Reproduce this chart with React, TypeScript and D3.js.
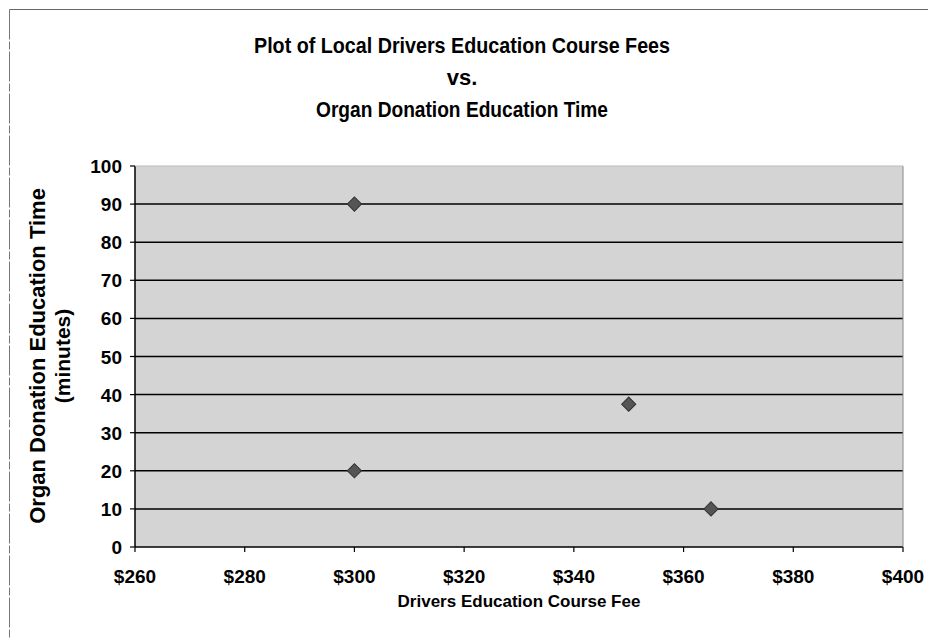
import React from "react";
import * as d3 from "d3";

const fees = [300, 300, 350, 365];
const minutes = [90, 20, 37.5, 10];
const xTicks = [260, 280, 300, 320, 340, 360, 380, 400];
const yTicks = [0, 10, 20, 30, 40, 50, 60, 70, 80, 90, 100];
const titleLines = [
  "Plot of Local Drivers Education Course Fees",
  "vs.",
  "Organ Donation Education Time",
];
const titleLengths = [416, 0, 292];
const yLabelLines = ["Organ Donation Education Time", "(minutes)"];
const xLabel = "Drivers Education Course Fee";

const W = 928;
const H = 638;
const left = 135;
const right = 903;
const top = 166;
const bottom = 547;
const FONT = "'Liberation Sans', Arial, sans-serif";

export default function App() {
  const x = d3.scaleLinear().domain([260, 400]).range([left, right]);
  const y = d3.scaleLinear().domain([0, 100]).range([bottom, top]);
  const diamond = d3.symbol().type(d3.symbolSquare).size(100)();

  return (
    <svg
      width={W}
      height={H}
      style={{ position: "absolute", left: 0, top: 0, background: "#fff" }}
      fontFamily={FONT}
    >
      <line x1={9.5} x2={W} y1={9.5} y2={9.5} stroke="#666" strokeWidth={1} />
      <line x1={9.5} x2={9.5} y1={9.5} y2={H} stroke="#777" strokeWidth={1} strokeDasharray="30 2 8 2" />
      {titleLines.map((t, i) => (
        <text
          key={i}
          x={462}
          y={53 + i * 32}
          textAnchor="middle"
          fontSize={22}
          fontWeight="bold"
          fill="#000"
          {...(titleLengths[i] ? { textLength: titleLengths[i], lengthAdjust: "spacingAndGlyphs" } : {})}
        >
          {t}
        </text>
      ))}
      <rect x={left} y={top} width={right - left} height={bottom - top} fill="#d4d4d4" />
      {yTicks.filter((v) => v > 0 && v < 100).map((v) => (
        <line key={v} x1={left} x2={right} y1={y(v)} y2={y(v)} stroke="#000" strokeWidth={1.5} />
      ))}
      <line x1={left} x2={left} y1={top} y2={bottom} stroke="#000" strokeWidth={1.5} />
      <line x1={left} x2={right} y1={bottom} y2={bottom} stroke="#000" strokeWidth={1.5} />
      <line x1={right} x2={right} y1={top} y2={bottom} stroke="#888" strokeWidth={1} />
      <line x1={left} x2={right} y1={top} y2={top} stroke="#bbb" strokeWidth={1} />
      {yTicks.map((v) => (
        <g key={v}>
          <line x1={left - 5} x2={left} y1={y(v)} y2={y(v)} stroke="#000" strokeWidth={1.2} />
          <text x={122} y={y(v) + 7} textAnchor="end" fontSize={19} fontWeight="bold" fill="#000">
            {v}
          </text>
        </g>
      ))}
      {xTicks.map((v) => (
        <g key={v}>
          <line x1={x(v)} x2={x(v)} y1={bottom} y2={bottom + 5} stroke="#000" strokeWidth={1.2} />
          <text x={x(v)} y={583} textAnchor="middle" fontSize={19} fontWeight="bold" fill="#000">
            {"$" + v}
          </text>
        </g>
      ))}
      {fees.map((f, i) => (
        <path
          key={i}
          d={diamond as string}
          transform={`translate(${x(f)},${y(minutes[i])}) rotate(45)`}
          fill="#555"
          stroke="#333"
          strokeWidth={1}
        />
      ))}
      <text x={519} y={607} textAnchor="middle" fontSize={17} fontWeight="bold" fill="#000">
        {xLabel}
      </text>
      {yLabelLines.map((t, i) => (
        <text
          key={i}
          transform={`translate(${45 + i * 25},${356}) rotate(-90)`}
          textAnchor="middle"
          fontSize={i === 0 ? 22 : 21}
          fontWeight="bold"
          fill="#000"
        >
          {t}
        </text>
      ))}
    </svg>
  );
}
